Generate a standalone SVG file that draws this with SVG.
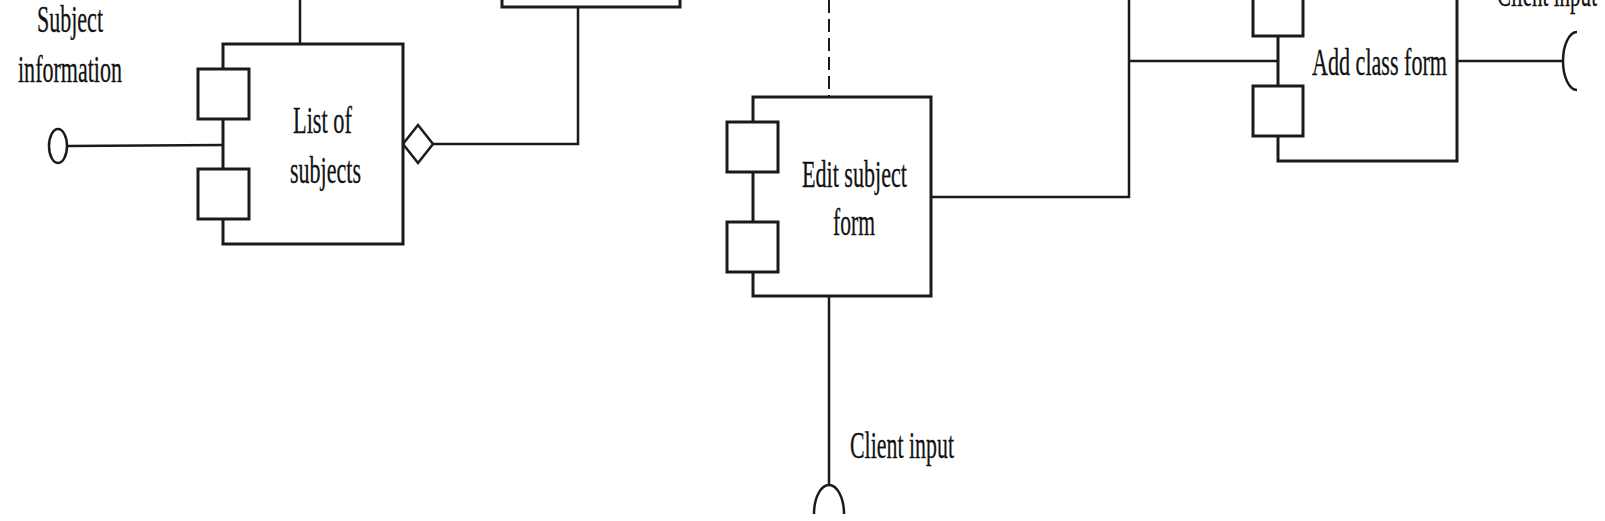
<svg xmlns="http://www.w3.org/2000/svg" width="1605" height="521" viewBox="0 0 1605 521">
<style>
.box{fill:#fff;stroke:#1a1a1a;stroke-width:3}
.port{fill:#fff;stroke:#1a1a1a;stroke-width:3}
.ln{fill:none;stroke:#1a1a1a;stroke-width:2.5}
.dash{fill:none;stroke:#1a1a1a;stroke-width:2;stroke-dasharray:13 6}
text{font-family:"Liberation Serif","Times New Roman",serif;font-size:38px;fill:#111;stroke:#111;stroke-width:0.3}
</style>
<rect width="1605" height="521" fill="#fff"/>
<g id="connectors">
  <line class="ln" x1="300" y1="0" x2="300" y2="44"/>
  <line class="ln" x1="67" y1="146" x2="223" y2="145"/>
  <polyline class="ln" points="433,144 578,144 578,7"/>
  <line class="dash" x1="829" y1="0" x2="829" y2="97"/>
  <line class="ln" x1="829" y1="296" x2="829" y2="485"/>
  <polyline class="ln" points="931,197 1129,197 1129,0"/>
  <line class="ln" x1="1129" y1="61" x2="1278" y2="61"/>
  <line class="ln" x1="1457" y1="61" x2="1563" y2="61"/>
  <polygon points="418,125 433,144 418,163 403,144" fill="#fff" stroke="#1a1a1a" stroke-width="2.5"/>
</g>
<g id="subject-information">
  <ellipse cx="58" cy="146" rx="9" ry="17" fill="#fff" stroke="#1a1a1a" stroke-width="2.5"/>
  <text x="37" y="32" textLength="66" lengthAdjust="spacingAndGlyphs">Subject</text>
  <text x="18" y="82" textLength="104" lengthAdjust="spacingAndGlyphs">information</text>
</g>
<g id="top-box">
  <rect class="box" x="502" y="-30" width="178" height="37"/>
</g>
<g id="list-of-subjects">
  <rect class="box" x="223" y="44" width="180" height="200"/>
  <rect class="port" x="198" y="69" width="51" height="50"/>
  <rect class="port" x="198" y="169" width="51" height="50"/>
  <text x="293" y="133" textLength="59" lengthAdjust="spacingAndGlyphs">List of</text>
  <text x="290" y="183" textLength="71" lengthAdjust="spacingAndGlyphs">subjects</text>
</g>
<g id="edit-subject-form">
  <rect class="box" x="753" y="97" width="178" height="199"/>
  <rect class="port" x="727" y="122" width="51" height="50"/>
  <rect class="port" x="727" y="222" width="51" height="50"/>
  <text x="802" y="187" textLength="105" lengthAdjust="spacingAndGlyphs">Edit subject</text>
  <text x="833" y="235" textLength="42" lengthAdjust="spacingAndGlyphs">form</text>
</g>
<g id="client-input-bottom">
  <path class="ln" d="M814,514 A15,29 0 0 1 844,514"/>
  <text x="850" y="458" textLength="104" lengthAdjust="spacingAndGlyphs">Client input</text>
</g>
<g id="add-class-form">
  <rect class="box" x="1278" y="-39" width="179" height="200"/>
  <rect class="port" x="1253" y="-14" width="50" height="50"/>
  <rect class="port" x="1253" y="86" width="50" height="50"/>
  <text x="1312" y="75" textLength="135" lengthAdjust="spacingAndGlyphs">Add class form</text>
</g>
<g id="client-input-right">
  <path class="ln" d="M1577,32 A14,29 0 0 0 1577,90"/>
  <text x="1497" y="6" textLength="100" lengthAdjust="spacingAndGlyphs">Client input</text>
</g>
</svg>
